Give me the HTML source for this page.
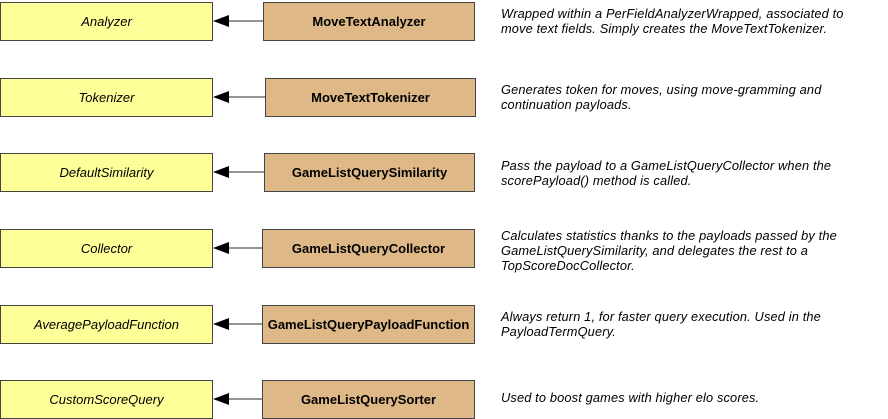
<!DOCTYPE html>
<html><head><style>
body{margin:0;width:888px;height:418px;background:#fff;position:relative;overflow:hidden;font-family:"Liberation Sans",Arial,sans-serif}
.b{position:absolute;box-sizing:border-box;border:1px solid #444;display:flex;align-items:center;justify-content:center;font-size:13px;color:#000}
.l{left:0;width:213px;height:39px;background:#ffff99;font-style:italic}
.r{left:262px;width:213px;height:39px;background:#deb887;font-weight:bold}
.t{position:absolute;left:501px;font-size:12.8px;letter-spacing:0.15px;font-style:italic;line-height:15px;color:#000;width:385px}
</style></head><body>
<svg width="888" height="418" style="position:absolute;left:0;top:0">
<g stroke="#555" stroke-width="1.2" fill="#000">
<line x1="228" y1="21" x2="263" y2="21"/><polygon points="213,21 229,15 229,27" stroke="none"/>
<line x1="228" y1="97" x2="265" y2="97"/><polygon points="213,97 229,91 229,103" stroke="none"/>
<line x1="228" y1="172" x2="264" y2="172"/><polygon points="213,172 229,166 229,178" stroke="none"/>
<line x1="228" y1="248" x2="262" y2="248"/><polygon points="213,248 229,242 229,254" stroke="none"/>
<line x1="228" y1="324" x2="262" y2="324"/><polygon points="213,324 229,318 229,330" stroke="none"/>
<line x1="228" y1="399" x2="262" y2="399"/><polygon points="213,399 229,393 229,405" stroke="none"/>
</g></svg>
<div class="b l" style="top:2px">Analyzer</div>
<div class="b l" style="top:78px">Tokenizer</div>
<div class="b l" style="top:153px">DefaultSimilarity</div>
<div class="b l" style="top:229px">Collector</div>
<div class="b l" style="top:305px">AveragePayloadFunction</div>
<div class="b l" style="top:380px">CustomScoreQuery</div>
<div class="b r" style="top:2px;left:263px;width:212px">MoveTextAnalyzer</div>
<div class="b r" style="top:78px;left:265px;width:211px">MoveTextTokenizer</div>
<div class="b r" style="top:153px;left:264px;width:211px">GameListQuerySimilarity</div>
<div class="b r" style="top:229px">GameListQueryCollector</div>
<div class="b r" style="top:305px">GameListQueryPayloadFunction</div>
<div class="b r" style="top:380px">GameListQuerySorter</div>
<div class="t" style="top:6px">Wrapped within a PerFieldAnalyzerWrapped, associated to<br>move text fields. Simply creates the MoveTextTokenizer.</div>
<div class="t" style="top:82px">Generates token for moves, using move-gramming and<br>continuation payloads.</div>
<div class="t" style="top:158px">Pass the payload to a GameListQueryCollector when the<br>scorePayload() method is called.</div>
<div class="t" style="top:228px">Calculates statistics thanks to the payloads passed by the<br>GameListQuerySimilarity, and delegates the rest to a<br>TopScoreDocCollector.</div>
<div class="t" style="top:309px">Always return 1, for faster query execution. Used in the<br>PayloadTermQuery.</div>
<div class="t" style="top:390px">Used to boost games with higher elo scores.</div>
</body></html>
